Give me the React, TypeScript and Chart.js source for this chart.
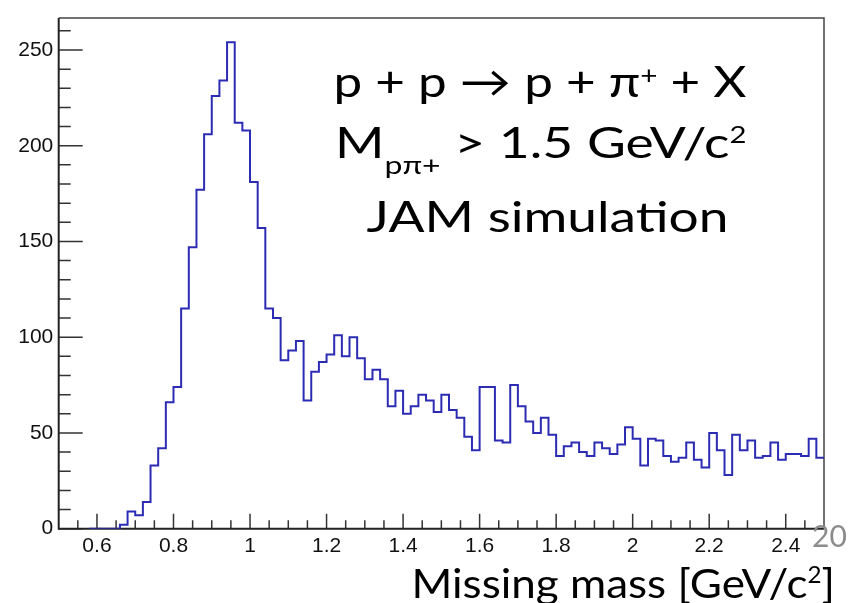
import React, { useEffect, useRef } from "react";
import { Chart, registerables } from "chart.js";

Chart.register(...registerables);

// ---- data ----
const BIN_START = 0.58; // low edge of first drawn bin [GeV/c^2]
const BIN_WIDTH = 0.02;
const COUNTS = [
  0, 0, 0, 0, 2, 9, 7, 14, 33, 42, 66, 74, 115,
  147, 177, 206, 226, 234, 254, 212, 208, 181, 157,
  115, 110, 88, 93, 98, 67, 82, 87, 91, 101,
  90, 100, 89, 78, 83, 78, 64, 72, 60, 64,
  70, 67, 61, 70, 62, 58, 48, 41, 74, 74,
  46, 45, 75, 64, 56, 50, 58, 49, 38, 43,
  45, 40, 38, 45, 42, 39, 44, 53, 47, 33,
  47, 46, 38, 35, 37, 45, 36, 32, 50, 41,
  28, 49, 41, 46, 37, 38, 45, 36, 39, 39,
  38, 47, 37,
];
const X_MIN = 0.5;
const X_MAX = 2.5;
const Y_MIN = 0;
const Y_MAX = 266.7;
const X_TICKS = [0.6, 0.8, 1, 1.2, 1.4, 1.6, 1.8, 2, 2.2, 2.4];
const Y_TICKS = [0, 50, 100, 150, 200, 250];
const X_MINOR_STEP = 0.05;
const Y_MINOR_STEP = 10;

const LINE_COLOR = "#2b2bb4";
const SLIDE_FONT = '"Lato", "Open Sans", "DejaVu Sans", sans-serif';
const AXIS_FONT = '"Liberation Sans", Arial, Helvetica, sans-serif';

type Seg = { t: string; s?: number; dy?: number };

function drawRich(
  ctx: CanvasRenderingContext2D,
  segs: Seg[],
  left: number,
  right: number,
  baseline: number,
  cap: number,
  color: string
) {
  ctx.save();
  ctx.font = `100px ${SLIDE_FONT}`;
  const capRatio = ctx.measureText("H").actualBoundingBoxAscent / 100 || 0.72;
  const size = cap / capRatio;
  let w = 0;
  const widths: number[] = [];
  for (const sg of segs) {
    ctx.font = `${size * (sg.s ?? 1)}px ${SLIDE_FONT}`;
    const ww = ctx.measureText(sg.t).width;
    widths.push(ww);
    w += ww;
  }
  const sx = (right - left) / w;
  ctx.translate(left, baseline);
  ctx.scale(sx, 1);
  ctx.fillStyle = color;
  ctx.textBaseline = "alphabetic";
  ctx.textAlign = "left";
  let cx = 0;
  segs.forEach((sg, i) => {
    ctx.font = `${size * (sg.s ?? 1)}px ${SLIDE_FONT}`;
    ctx.fillText(sg.t, cx, (sg.dy ?? 0) * size);
    cx += widths[i];
  });
  ctx.restore();
}

const rootFrame = {
  id: "rootFrame",
  beforeDatasetsDraw(chart: any) {
    const { ctx, chartArea: a } = chart;
    const xs = chart.scales.x;
    const ys = chart.scales.y;
    ctx.save();
    // frame top/right
    ctx.strokeStyle = "#444";
    ctx.lineWidth = 1.5;
    ctx.beginPath();
    ctx.moveTo(a.left, a.top);
    ctx.lineTo(a.right, a.top);
    ctx.lineTo(a.right, a.bottom);
    ctx.stroke();
    // ticks
    ctx.strokeStyle = "#333";
    ctx.lineWidth = 1.5;
    ctx.beginPath();
    for (let k = 0; k * Y_MINOR_STEP <= Y_MAX; k++) {
      const v = k * Y_MINOR_STEP;
      const py = ys.getPixelForValue(v);
      const len = Y_TICKS.includes(v) ? 24 : 12;
      ctx.moveTo(a.left, py);
      ctx.lineTo(a.left + len, py);
    }
    for (let k = 1; X_MIN + k * X_MINOR_STEP < X_MAX - 1e-9; k++) {
      const v = Math.round((X_MIN + k * X_MINOR_STEP) * 100) / 100;
      const px = xs.getPixelForValue(v);
      const len = X_TICKS.some((t) => Math.abs(t - v) < 1e-6) ? 15 : 8.5;
      ctx.moveTo(px, a.bottom);
      ctx.lineTo(px, a.bottom - len);
    }
    ctx.stroke();
    // axes
    ctx.strokeStyle = "#222";
    ctx.lineWidth = 2;
    ctx.beginPath();
    ctx.moveTo(a.left, a.top);
    ctx.lineTo(a.left, a.bottom);
    ctx.lineTo(a.right, a.bottom);
    ctx.stroke();
    ctx.restore();
  },
  afterDraw(chart: any) {
    const ctx: CanvasRenderingContext2D = chart.ctx;
    drawRich(
      ctx,
      [{ t: "p + p \u2192 p + \u03c0" }, { t: "+", s: 0.58, dy: -0.3 }, { t: " + X" }],
      333.5, 746.5, 96.5, 31.5, "#000"
    );
    drawRich(
      ctx,
      [
        { t: "M" },
        { t: "p\u03c0+", s: 0.6, dy: 0.36 },
        { t: " > 1.5 GeV/c" },
        { t: "2", s: 0.55, dy: -0.36 },
      ],
      335, 746.5, 158.3, 31, "#000"
    );
    drawRich(ctx, [{ t: "JAM simulation" }], 366.5, 728.5, 231.7, 31.7, "#000");
    drawRich(
      ctx,
      [{ t: "Missing mass [GeV/c" }, { t: "2", s: 0.55, dy: -0.36 }, { t: "]" }],
      411.5, 835, 598, 30, "#000"
    );
    ctx.save();
    ctx.font = `30px ${SLIDE_FONT}`;
    ctx.fillStyle = "#8c8c8c";
    ctx.textBaseline = "alphabetic";
    ctx.fillText("20", 812, 547);
    ctx.restore();
  },
};

export default function App() {
  const ref = useRef<HTMLCanvasElement | null>(null);
  useEffect(() => {
    if (!ref.current) return;
    const points = COUNTS.map((c, i) => ({
      x: Math.round((BIN_START + i * BIN_WIDTH) * 100) / 100,
      y: c,
    }));
    points.push({
      x: Math.round((BIN_START + COUNTS.length * BIN_WIDTH) * 100) / 100,
      y: COUNTS[COUNTS.length - 1],
    });
    const chart = new Chart(ref.current, {
      type: "line",
      data: {
        datasets: [
          {
            data: points,
            stepped: "before",
            borderColor: LINE_COLOR,
            borderWidth: 2,
            pointRadius: 0,
            fill: false,
          },
        ],
      },
      options: {
        animation: false,
        responsive: false,
        devicePixelRatio: 1,
        layout: { padding: { top: 8, right: 26, left: 0, bottom: 0 } },
        plugins: { legend: { display: false }, tooltip: { enabled: false } },
        scales: {
          x: {
            type: "linear",
            min: X_MIN,
            max: X_MAX,
            grid: { display: false, drawTicks: false },
            border: { display: false },
            afterBuildTicks: (s: any) => {
              s.ticks = X_TICKS.map((v) => ({ value: v }));
            },
            afterFit: (s: any) => {
              s.height = 74.3;
            },
            ticks: {
              font: { family: AXIS_FONT, size: 21 },
              color: "#111",
              padding: 5,
              maxRotation: 0,
              autoSkip: false,
              callback: (v: any) => String(Number(Number(v).toFixed(2))),
            },
          },
          y: {
            type: "linear",
            min: Y_MIN,
            max: Y_MAX,
            grid: { display: false, drawTicks: false },
            border: { display: false },
            afterBuildTicks: (s: any) => {
              s.ticks = Y_TICKS.map((v) => ({ value: v }));
            },
            afterFit: (s: any) => {
              s.width = 58.7;
            },
            ticks: {
              font: { family: AXIS_FONT, size: 21 },
              color: "#111",
              padding: 5.4,
              autoSkip: false,
              callback: (v: any) => String(v),
            },
          },
        },
      },
      plugins: [rootFrame as any],
    });
    return () => chart.destroy();
  }, []);
  return (
    <div style={{ position: "fixed", left: 0, top: 0, width: 850, height: 603, background: "#fff" }}>
      <canvas ref={ref} width={850} height={603} style={{ width: 850, height: 603, display: "block" }} />
    </div>
  );
}
